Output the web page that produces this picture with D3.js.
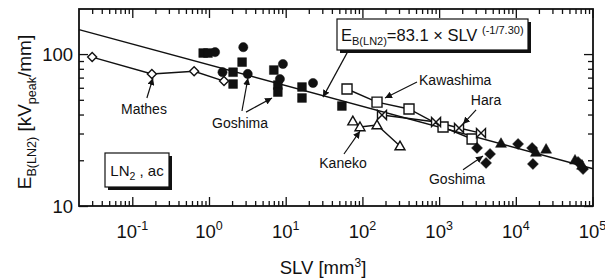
<!DOCTYPE html>
<html>
<head>
<meta charset="utf-8">
<script src="https://cdn.jsdelivr.net/npm/d3@7"></script>
<style>
  body { margin: 0; background: #fff; }
  text { font-family: "Liberation Sans", Arial, sans-serif; fill: #111; }
</style>
</head>
<body>
<div id="chart"></div>
<script>
// ---- data (SLV in mm3, E in kV/mm) ----
const mathesX = [0.030, 0.18, 0.64, 1.57];
const mathesY = [95.5, 74, 77, 66.4];

const goshimaCircleX = [1.2, 2.8, 1.5, 3.2, 9.2, 8.4, 22.7];
const goshimaCircleY = [103, 111, 76, 74, 86, 68.5, 64.5];

const goshimaSquareX = [0.84, 0.97, 2.7, 2.06, 2.06, 7.0, 7.9, 7.9, 16.3, 16.3, 54];
const goshimaSquareY = [101.6, 101.6, 88.5, 76, 63.5, 78.5, 62.5, 56.2, 60.7, 51.4, 45.5];

const kawashimaX = [63, 155, 405, 1125, 2690];
const kawashimaY = [58.9, 48.3, 43.5, 33.1, 27.6];

const haraX = [180, 912, 1817, 3515];
const haraY = [39.7, 35.7, 32.6, 30.2];

const kanekoX = [75, 93, 155, 309];
const kanekoY = [36.2, 33.1, 34.1, 24.8];

const goshimaDiamondX = [3120, 4610, 4090, 10700, 16300, 16700, 64700, 75200];
const goshimaDiamondY = [24.1, 22.0, 19.2, 25.6, 24.1, 18.9, 19.5, 17.5];

const goshimaTriX = [6410, 18300, 24800, 59100, 73000];
const goshimaTriY = [25.9, 22.6, 23.7, 20.1, 18.6];

// fitted line end points
const fitX = [0.0202, 101400];
const fitY = [145, 17.6];

const xTickExp = [-1, 0, 1, 2, 3, 4, 5];
const yTicks = [10, 100];
const yTickLabels = ["10", "100"];

// annotations: [label, textX, textY, fromX, fromY, toX, toY, anchor]
const notes = [
  ["Mathes", 0.142, 43.5, 0.155, 51.4, 0.186, 69.5, "middle"],
  ["Goshima", 2.54, 35.1, 2.69, 42.2, 3.22, 69.5, "middle"],
  ["", 0, 0, 3.04, 41.5, 6.63, 51.4, "middle"],
  ["", 0, 0, 64.9, 104.6, 30.6, 52.1, "middle"],
  ["Kawashima", 547, 67.5, 515, 65.5, 197, 51.4, "start"],
  ["Hara", 4090, 49.8, 3030, 42.9, 2050, 34.6, "middle"],
  ["Kaneko", 55.9, 19.2, 57.5, 22.0, 93, 31.1, "middle"],
  ["Goshima", 1710, 15.1, 2050, 17.3, 3730, 21.3, "middle"]
];

const W = 605, H = 280;
const pLeft = 79, pRight = 593, pTop = 9, pBottom = 206;

const svg = d3.select("#chart").append("svg")
  .attr("width", W).attr("height", H);

const x = d3.scaleLog().domain([0.0202, 101400]).range([pLeft, pRight]);
const y = d3.scaleLog().domain([10, 198]).range([pBottom, pTop]);

// minor tick values
const xMinor = [];
for (let d = -2; d <= 4; d++)
  for (let m = 2; m <= 9; m++) {
    const v = m * Math.pow(10, d);
    if (v > 0.0202 && v < 101400) xMinor.push(v);
  }
const yMinor = [];
for (let m = 2; m <= 9; m++) yMinor.push(m * 10);

const xMajor = xTickExp.map(e => Math.pow(10, e));

function ticks(gen, vals, size, tr) {
  const g = svg.append("g").attr("transform", tr)
    .call(gen.tickValues(vals).tickSize(size).tickSizeOuter(0).tickFormat(""));
  g.select(".domain").remove();
  g.selectAll("line").attr("stroke", "#111").attr("stroke-width", 1.3);
}
ticks(d3.axisBottom(x), xMajor, -9, `translate(0,${pBottom})`);
ticks(d3.axisBottom(x), xMinor, -5, `translate(0,${pBottom})`);
ticks(d3.axisTop(x), xMajor, -9, `translate(0,${pTop})`);
ticks(d3.axisTop(x), xMinor, -5, `translate(0,${pTop})`);
ticks(d3.axisLeft(y), yTicks, -9, `translate(${pLeft},0)`);
ticks(d3.axisLeft(y), yMinor, -5, `translate(${pLeft},0)`);
ticks(d3.axisRight(y), yTicks, -9, `translate(${pRight},0)`);
ticks(d3.axisRight(y), yMinor, -5, `translate(${pRight},0)`);

svg.append("rect")
  .attr("x", pLeft).attr("y", pTop)
  .attr("width", pRight - pLeft).attr("height", pBottom - pTop)
  .attr("fill", "none").attr("stroke", "#111").attr("stroke-width", 1.8);

// tick labels
xTickExp.forEach(e => {
  const t = svg.append("text")
    .attr("x", x(Math.pow(10, e))).attr("y", 238)
    .attr("text-anchor", "middle").style("font-size", "18.5px");
  t.append("tspan").text("10");
  t.append("tspan").attr("dy", -8).style("font-size", "12.5px").text(String(e));
});
yTicks.forEach((v, i) => {
  svg.append("text")
    .attr("x", 73).attr("y", y(v) + 6.5)
    .attr("text-anchor", "end").style("font-size", "18.5px")
    .text(yTickLabels[i]);
});

// axis titles
const xt = svg.append("text").attr("x", 323).attr("y", 274)
  .attr("text-anchor", "middle").style("font-size", "18.5px");
xt.append("tspan").text("SLV [mm");
xt.append("tspan").attr("dy", -7).style("font-size", "12px").text("3");
xt.append("tspan").attr("dy", 7).text("]");

const yt = svg.append("text")
  .attr("transform", "translate(31,112) rotate(-90)")
  .attr("text-anchor", "middle").style("font-size", "19px");
yt.append("tspan").text("E");
yt.append("tspan").attr("dy", 5).style("font-size", "12.5px").text("B(LN2)");
yt.append("tspan").attr("dy", -5).text(" [kV");
yt.append("tspan").attr("dy", 5).style("font-size", "12.5px").text("peak");
yt.append("tspan").attr("dy", -5).text("/mm]");

// fitted line
svg.append("path")
  .attr("d", d3.line()(fitX.map((v, i) => [x(v), y(fitY[i])])))
  .attr("fill", "none").attr("stroke", "#111").attr("stroke-width", 1.4);

// series lines
function series(xs, ys) {
  svg.append("path")
    .attr("d", d3.line()(xs.map((v, i) => [x(v), y(ys[i])])))
    .attr("fill", "none").attr("stroke", "#111").attr("stroke-width", 1.4);
}
series(mathesX, mathesY);
series(kawashimaX, kawashimaY);
series(haraX, haraY);
series(kanekoX, kanekoY);

// marker shapes
const shapes = {
  circle: r => `M${r},0A${r},${r} 0 1,1 ${-r},0A${r},${r} 0 1,1 ${r},0Z`,
  square: r => `M${-r},${-r}H${r}V${r}H${-r}Z`,
  diamond: r => `M0,${-r}L${r},0L0,${r}L${-r},0Z`,
  triangle: r => `M0,${-r}L${r},${r * 0.75}L${-r},${r * 0.75}Z`,
  bowtie: r => `M${-r},${-r}L${r},${r}L${r},${-r}L${-r},${r}Z`
};
function markers(xs, ys, shape, r, filled) {
  svg.append("g").selectAll("path")
    .data(xs.map((v, i) => [v, ys[i]]))
    .join("path")
    .attr("transform", d => `translate(${x(d[0])},${y(d[1])})`)
    .attr("d", shapes[shape](r))
    .attr("fill", filled ? "#111" : "#fff")
    .attr("stroke", "#111")
    .attr("stroke-width", filled ? 0.5 : 1.4);
}
markers(mathesX, mathesY, "diamond", 4.5, false);
markers(goshimaSquareX, goshimaSquareY, "square", 4.4, true);
markers(goshimaCircleX, goshimaCircleY, "circle", 4.6, true);
markers(kawashimaX, kawashimaY, "square", 5, false);
markers(kanekoX, kanekoY, "triangle", 5, false);
markers(haraX, haraY, "bowtie", 4.5, false);
markers(goshimaDiamondX, goshimaDiamondY, "diamond", 5.5, true);
markers(goshimaTriX, goshimaTriY, "triangle", 5.5, true);

// arrows
svg.append("defs").append("marker")
  .attr("id", "ah").attr("viewBox", "0 0 10 10")
  .attr("refX", 10).attr("refY", 5)
  .attr("markerWidth", 7).attr("markerHeight", 7)
  .attr("markerUnits", "userSpaceOnUse")
  .attr("orient", "auto")
  .append("path").attr("d", "M0,0L10,5L0,10Z").attr("fill", "#111");

notes.forEach(n => {
  svg.append("line")
    .attr("x1", x(n[3])).attr("y1", y(n[4]))
    .attr("x2", x(n[5])).attr("y2", y(n[6]))
    .attr("stroke", "#111").attr("stroke-width", 1.2)
    .attr("marker-end", "url(#ah)");
  if (n[0]) {
    svg.append("text")
      .attr("x", x(n[1])).attr("y", y(n[2]) + 5)
      .attr("text-anchor", n[7]).style("font-size", "14px")
      .text(n[0]);
  }
});

// equation box
svg.append("rect").attr("x", 340).attr("y", 22).attr("width", 191).attr("height", 31).attr("fill", "#111");
svg.append("rect").attr("x", 337).attr("y", 19).attr("width", 191).attr("height", 31)
  .attr("fill", "#fff").attr("stroke", "#111").attr("stroke-width", 1.2);
const eq = svg.append("text").attr("x", 341).attr("y", 41).style("font-size", "16.5px");
eq.append("tspan").text("E");
eq.append("tspan").attr("dy", 4).style("font-size", "11px").text("B(LN2)");
eq.append("tspan").attr("dy", -4).text("=83.1 \u00d7 SLV ");
eq.append("tspan").attr("dy", -7).style("font-size", "11px").text("(-1/7.30)");

// LN2 box
svg.append("rect").attr("x", 108).attr("y", 156).attr("width", 64).attr("height", 34).attr("fill", "#111");
svg.append("rect").attr("x", 105).attr("y", 153).attr("width", 64).attr("height", 34)
  .attr("fill", "#fff").attr("stroke", "#111").attr("stroke-width", 1.2);
const ln = svg.append("text").attr("x", 137).attr("y", 176)
  .attr("text-anchor", "middle").style("font-size", "15px");
ln.append("tspan").text("LN");
ln.append("tspan").attr("dy", 4).style("font-size", "10.5px").text("2");
ln.append("tspan").attr("dy", -4).text(" , ac");
</script>
</body>
</html>
